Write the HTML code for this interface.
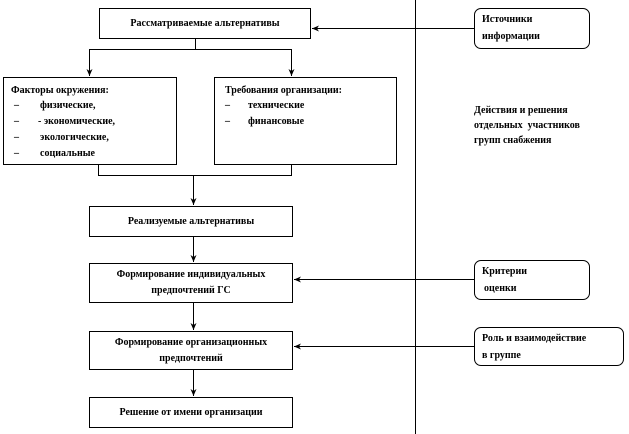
<!DOCTYPE html>
<html><head><meta charset="utf-8"><style>
body{margin:0;width:629px;height:434px;background:#fff;position:relative;overflow:hidden;font-family:"Liberation Serif","Noto Serif CJK SC",serif;font-weight:bold;font-size:10px;color:#000}
.b{position:absolute;border:1px solid #000;box-sizing:border-box;background:#fff}
.c{display:flex;align-items:center;justify-content:center;text-align:center;line-height:16px}
.r{border-radius:7px}
.t{position:absolute;white-space:nowrap;line-height:16px}
svg{position:absolute;left:0;top:0}
</style></head><body>
<svg width="629" height="434">
<defs><marker id="a" markerWidth="8" markerHeight="8" refX="7" refY="3" orient="auto" markerUnits="userSpaceOnUse"><path d="M0,0 L7,3 L0,6 L2,3z" fill="#000"/></marker></defs>
<g stroke="#000" stroke-width="1" fill="none">
<line x1="415.5" y1="0" x2="415.5" y2="434"/>
<line x1="474" y1="28.5" x2="312" y2="28.5" marker-end="url(#a)"/>
<line x1="195.5" y1="38" x2="195.5" y2="49.5"/>
<line x1="89" y1="49.5" x2="292" y2="49.5"/>
<line x1="89.5" y1="49" x2="89.5" y2="76" marker-end="url(#a)"/>
<line x1="291.5" y1="49" x2="291.5" y2="76" marker-end="url(#a)"/>
<line x1="98.5" y1="164" x2="98.5" y2="175.5"/>
<line x1="291.5" y1="164" x2="291.5" y2="175.5"/>
<line x1="98" y1="175.5" x2="292" y2="175.5"/>
<line x1="193.5" y1="175" x2="193.5" y2="205" marker-end="url(#a)"/>
<line x1="193.5" y1="236" x2="193.5" y2="262" marker-end="url(#a)"/>
<line x1="193.5" y1="302" x2="193.5" y2="330" marker-end="url(#a)"/>
<line x1="193.5" y1="369" x2="193.5" y2="396" marker-end="url(#a)"/>
<line x1="474" y1="279.5" x2="294" y2="279.5" marker-end="url(#a)"/>
<line x1="474" y1="346.5" x2="294" y2="346.5" marker-end="url(#a)"/>
</g></svg>
<div class="b c" style="left:99px;top:8px;width:212px;height:31px">Рассматриваемые альтернативы</div>
<div class="b" style="left:3px;top:77px;width:174px;height:88px"></div>
<div class="t" style="left:11px;top:83px">Факторы окружения:</div>
<div class="t" style="left:14px;top:98px">–</div><div class="t" style="left:40px;top:98px">физические,</div>
<div class="t" style="left:14px;top:114px">–</div><div class="t" style="left:38px;top:114px">- экономические,</div>
<div class="t" style="left:14px;top:130px">–</div><div class="t" style="left:40px;top:130px">экологические,</div>
<div class="t" style="left:14px;top:146px">–</div><div class="t" style="left:40px;top:146px">социальные</div>
<div class="b" style="left:214px;top:77px;width:183px;height:88px"></div>
<div class="t" style="left:225px;top:83px">Требования организации:</div>
<div class="t" style="left:225px;top:98px">–</div><div class="t" style="left:248px;top:98px">технические</div>
<div class="t" style="left:225px;top:114px">–</div><div class="t" style="left:248px;top:114px">финансовые</div>
<div class="b r" style="left:474px;top:8px;width:116px;height:41px"></div>
<div class="t" style="left:482px;top:12px">Источники</div>
<div class="t" style="left:482px;top:29px">информации</div>
<div class="t" style="left:474px;top:103px;line-height:15px">Действия и решения<br>отдельных &nbsp;участников<br>групп снабжения</div>
<div class="b c" style="left:89px;top:206px;width:204px;height:31px">Реализуемые альтернативы</div>
<div class="b c" style="left:89px;top:263px;width:204px;height:40px">Формирование индивидуальных<br>предпочтений ГС</div>
<div class="b c" style="left:89px;top:331px;width:204px;height:39px">Формирование организационных<br>предпочтений</div>
<div class="b c" style="left:89px;top:397px;width:204px;height:31px">Решение от имени организации</div>
<div class="b r" style="left:474px;top:260px;width:116px;height:40px"></div>
<div class="t" style="left:482px;top:264px">Критерии</div>
<div class="t" style="left:484px;top:281px">оценки</div>
<div class="b r" style="left:474px;top:327px;width:150px;height:39px"></div>
<div class="t" style="left:482px;top:331px">Роль и взаимодействие</div>
<div class="t" style="left:482px;top:348px">в группе</div>
</body></html>
